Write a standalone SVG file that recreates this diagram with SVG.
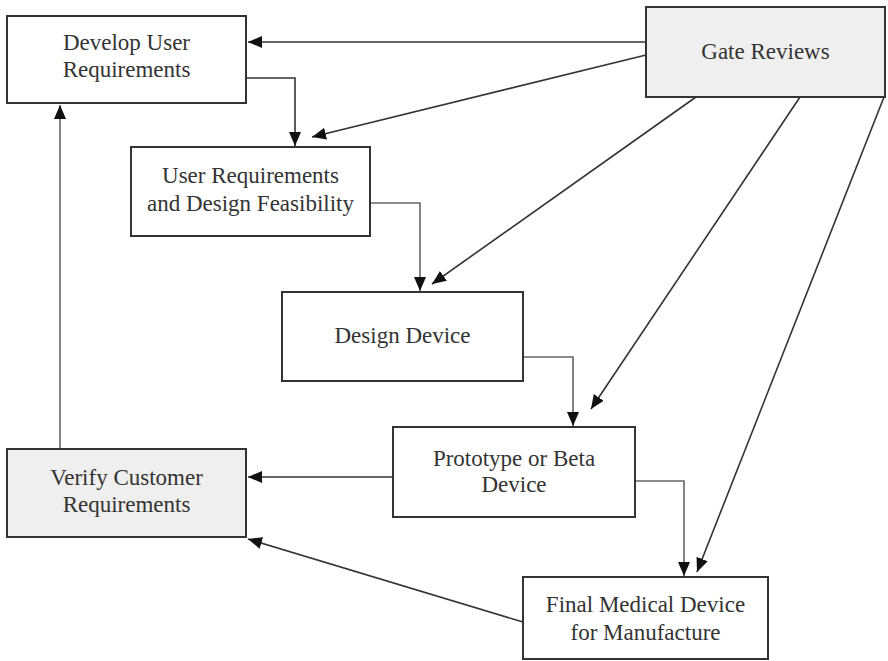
<svg xmlns="http://www.w3.org/2000/svg" width="888" height="661" viewBox="0 0 888 661">
  <style>
    .box { fill: #ffffff; stroke: #333333; stroke-width: 2; }
    .shade { fill: #efefef; }
    .lbl { font-family: "Liberation Serif", "Times New Roman", serif; font-size: 23px; fill: #333333; text-anchor: middle; }
    .conn { fill: none; stroke: #333333; stroke-width: 1.6; marker-end: url(#arrow); }
    .soft { stroke: #666666; }
  </style>
  <defs>
    <marker id="arrow" markerUnits="userSpaceOnUse" markerWidth="14" markerHeight="12" viewBox="0 0 14 12" refX="14" refY="6" orient="auto">
      <path d="M0,0 L14,6 L0,12 z" fill="#111111"/>
    </marker>
  </defs>

  <rect width="888" height="661" fill="#ffffff"/>

  <g id="connectors">
    <!-- from Gate Reviews -->
    <line class="conn" x1="646" y1="42" x2="248" y2="42"/>
    <line class="conn" x1="646" y1="55" x2="312" y2="137"/>
    <line class="conn" x1="696" y1="97" x2="432" y2="284"/>
    <line class="conn" x1="800" y1="97" x2="591" y2="409"/>
    <line class="conn" x1="884" y1="97" x2="697" y2="572"/>
    <!-- stage-to-stage flow -->
    <polyline class="conn" points="246,78 295,78 295,146"/>
    <polyline class="conn soft" points="370,203 420,203 420,291"/>
    <polyline class="conn soft" points="523,357 573,357 573,426"/>
    <polyline class="conn soft" points="635,481 684,481 684,576"/>
    <!-- feedback to verification -->
    <line class="conn" x1="393" y1="477" x2="248" y2="477"/>
    <line class="conn" x1="523" y1="622" x2="248" y2="539"/>
    <line class="conn soft" x1="60" y1="449" x2="60" y2="105"/>
  </g>

  <g id="develop-user-requirements">
    <rect class="box" x="7" y="16" width="239" height="87"/>
    <text class="lbl" x="126.5" y="50">Develop User</text>
    <text class="lbl" x="126.5" y="77">Requirements</text>
  </g>

  <g id="gate-reviews">
    <rect class="box shade" x="646" y="7" width="239" height="90"/>
    <text class="lbl" x="765.5" y="59">Gate Reviews</text>
  </g>

  <g id="user-requirements-design-feasibility">
    <rect class="box" x="131" y="147" width="239" height="89"/>
    <text class="lbl" x="250.5" y="183">User Requirements</text>
    <text class="lbl" x="250.5" y="211">and Design Feasibility</text>
  </g>

  <g id="design-device">
    <rect class="box" x="282" y="292" width="241" height="89"/>
    <text class="lbl" x="402.5" y="343">Design Device</text>
  </g>

  <g id="prototype-beta-device">
    <rect class="box" x="393" y="427" width="242" height="90"/>
    <text class="lbl" x="514" y="466">Prototype or Beta</text>
    <text class="lbl" x="514" y="492">Device</text>
  </g>

  <g id="verify-customer-requirements">
    <rect class="box shade" x="7" y="449" width="239" height="88"/>
    <text class="lbl" x="126.5" y="485">Verify Customer</text>
    <text class="lbl" x="126.5" y="512">Requirements</text>
  </g>

  <g id="final-medical-device">
    <rect class="box" x="523" y="577" width="245" height="82"/>
    <text class="lbl" x="645.5" y="612">Final Medical Device</text>
    <text class="lbl" x="645.5" y="640">for Manufacture</text>
  </g>
</svg>
